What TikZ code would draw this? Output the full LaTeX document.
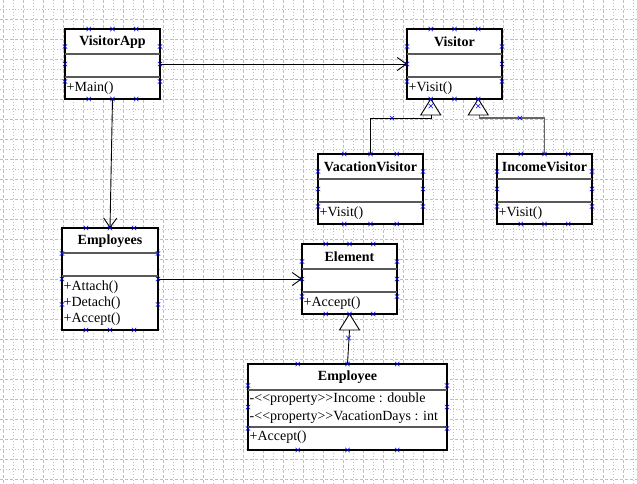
\documentclass[tikz,border=0pt]{standalone}
\usepackage{fontspec}
\setmainfont{Liberation Serif}
\usetikzlibrary{arrows.meta,calc}
\newcommand\myhandles[1]{%
  \foreach \t in {0.25,0.5,0.75}{%
    \pic at ($(#1.north west)!\t!(#1.north east)$) {hx};
    \pic at ($(#1.south west)!\t!(#1.south east)$) {hx};
    \pic at ($(#1.north west)!\t!(#1.south west)$) {hx};
    \pic at ($(#1.north east)!\t!(#1.south east)$) {hx};}}
\newcommand\mysep[2]{%
  \draw[sepl] ($(#1.north west)+(0,#2)$) -- ($(#1.north east)+(0,#2)$);}
\begin{document}
\begin{tikzpicture}[x=1pt,y=-1pt,
  cls/.style={draw=black, line width=1.2pt, fill=white, rectangle, anchor=north west,
    inner sep=0pt, outer sep=0pt},
  sepl/.style={draw=black!65, line width=1.6pt},
  ttl/.style={font=\fontsize{14}{16}\selectfont\bfseries, inner sep=0pt},
  mem/.style={font=\fontsize{14}{16}\selectfont, anchor=west, inner sep=0pt},
  conn/.style={draw=black, line width=0.9pt},
  dep/.style={conn, -{Straight Barb[length=9pt,width=13pt,line width=0.9pt]}},
  gen/.style={draw=black, fill=white, line width=0.9pt},
  gridA/.style={draw=black!25, line width=0.7pt, dash pattern=on 3pt off 2pt},
  gridB/.style={draw=black!25, line width=0.7pt, dash pattern=on 1pt off 2pt},
  hx/.pic={\draw[blue, line width=0.55pt] (-2.2,-2.2) -- (2.2,2.2) (-2.2,2.2) -- (2.2,-2.2);}
]
\useasboundingbox (0,0) rectangle (637,484);
\fill[white] (0,0) rectangle (637,484);
% grid
\foreach \i in {0,...,63}{
  \pgfmathsetmacro\gx{3+10*\i}
  \ifodd\i \draw[gridB] (\gx,0) -- (\gx,484); \else \draw[gridA] (\gx,0) -- (\gx,484); \fi
}
\foreach \j in {0,...,47}{
  \pgfmathsetmacro\gy{9+10*\j}
  \ifodd\j \draw[gridA] (0,\gy) -- (637,\gy); \else \draw[gridB] (0,\gy) -- (637,\gy); \fi
}

% classes
\node[cls, minimum width=95pt, minimum height=70pt] (va) at (65,29) {};
\node[cls, minimum width=95pt, minimum height=70pt] (vis) at (407,29) {};
\node[cls, minimum width=105pt, minimum height=70pt] (vv) at (318,154) {};
\node[cls, minimum width=95pt, minimum height=70pt] (iv) at (497,154) {};
\node[cls, minimum width=96pt, minimum height=102pt] (emps) at (62,228) {};
\node[cls, minimum width=95pt, minimum height=70pt] (el) at (302,244) {};
\node[cls, minimum width=199pt, minimum height=86pt] (emp) at (248,364) {};

\mysep{va}{25} \mysep{va}{48}
\mysep{vis}{25} \mysep{vis}{48}
\mysep{vv}{25} \mysep{vv}{48}
\mysep{iv}{25} \mysep{iv}{48}
\mysep{emps}{25} \mysep{emps}{48}
\mysep{el}{25} \mysep{el}{48}
\mysep{emp}{26} \mysep{emp}{63}

% titles
\node[ttl] (vaT) at ($(va.north)+(0,13)$) {VisitorApp};
\node[ttl] (visT) at ($(vis.north)+(0,13)$) {Visitor};
\node[ttl] (vvT) at ($(vv.north)+(0,13)$) {VacationVisitor};
\node[ttl] (ivT) at ($(iv.north)+(0,13)$) {IncomeVisitor};
\node[ttl] (empsT) at ($(emps.north)+(0,13)$) {Employees};
\node[ttl] (elT) at ($(el.north)+(0,13)$) {Element};
\node[ttl] (empT) at ($(emp.north)+(0,13)$) {Employee};

% members
\node[mem] (vaM) at ($(va.north west)+(1.5,59)$) {+Main()};
\node[mem] (visM) at ($(vis.north west)+(1.5,59)$) {+Visit()};
\node[mem] (vvM) at ($(vv.north west)+(1.5,59)$) {+Visit()};
\node[mem] (ivM) at ($(iv.north west)+(1.5,59)$) {+Visit()};
\node[mem] (empsM1) at ($(emps.north west)+(1.5,59)$) {+Attach()};
\node[mem] (empsM2) at ($(emps.north west)+(1.5,75)$) {+Detach()};
\node[mem] (empsM3) at ($(emps.north west)+(1.5,91)$) {+Accept()};
\node[mem] (elM) at ($(el.north west)+(1.5,59)$) {+Accept()};
\node[mem] (empA1) at ($(emp.north west)+(1.5,35.5)$) {-<{}<property>{}>Income : double};
\node[mem] (empA2) at ($(emp.north west)+(1.5,53)$) {-<{}<property>{}>VacationDays : int};
\node[mem] (empM) at ($(emp.north west)+(1.5,73)$) {+Accept()};

% dependencies
\draw[dep] (va.east) -- (vis.west);
\draw[dep] (va.south) -- (emps.north);
\draw[dep] (emps.east) -- (el.west);

% generalizations
\coordinate (t1) at ($(vis.south west)!0.25!(vis.south east)$);
\coordinate (t2) at ($(vis.south west)!0.75!(vis.south east)$);
\draw[conn] ($(t1)+(1,16)$) -- ++(0,3) -| (vv.north);
\draw[conn, draw=black!60, line width=1.3pt] ($(t2)+(1,16)$) -- ++(0,3) -| (iv.north);
\draw[gen] (t1) -- ++(-10,16) -- ++(20,0) -- cycle;
\draw[gen] (t2) -- ++(-10,16) -- ++(20,0) -- cycle;
\draw[conn] ($(el.south)+(0,16)$) -- (emp.north);
\draw[gen] (el.south) -- ++(-10,16) -- ++(20,0) -- cycle;

% selection handles
\myhandles{va} \myhandles{vis} \myhandles{vv} \myhandles{iv}
\myhandles{emps} \myhandles{el} \myhandles{emp}
\pic at ($(t1)+(0,7)$) {hx};
\pic at ($(t2)+(0,7)$) {hx};
\pic at (392,118) {hx};
\pic at (520,118) {hx};
\pic at ($(el.south)+(-1,24)$) {hx};
\end{tikzpicture}
\end{document}
